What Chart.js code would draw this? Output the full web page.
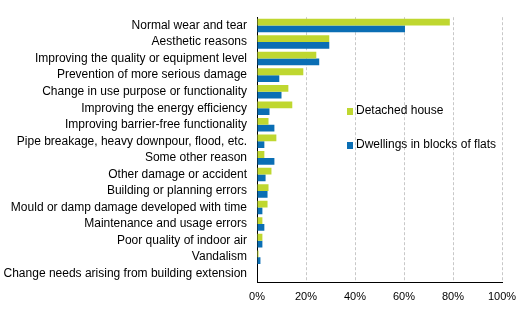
<!DOCTYPE html>
<html>
<head>
<meta charset="utf-8">
<script src="https://cdn.jsdelivr.net/npm/chart.js@4"></script>
<style>
  body { margin: 0; background: #fff; }
  #wrap { position: relative; width: 527px; height: 321px; }
  .leg { position: absolute; font: 12px "Liberation Sans", Arial, sans-serif; color: #000; white-space: nowrap; }
  .leg span { display: inline-block; width: 6px; height: 7px; margin-right: 3px; vertical-align: -1px; }
</style>
</head>
<body>
<div id="wrap">
  <canvas id="chart" width="527" height="321"></canvas>
  <div class="leg" style="left:347px; top:103px;"><span style="background:#bfd730"></span>Detached house</div>
  <div class="leg" style="left:347px; top:137px;"><span style="background:#0a6eb4"></span>Dwellings in blocks of flats</div>
</div>
<script>
// Chart data
const categories = [
  "Normal wear and tear",
  "Aesthetic reasons",
  "Improving the quality or equipment level",
  "Prevention of more serious damage",
  "Change in use purpose or functionality",
  "Improving the energy efficiency",
  "Improving barrier-free functionality",
  "Pipe breakage, heavy downpour, flood, etc.",
  "Some other reason",
  "Other damage or accident",
  "Building or planning errors",
  "Mould or damp damage developed with time",
  "Maintenance and usage errors",
  "Poor quality of indoor air",
  "Vandalism",
  "Change needs arising from building extension"
];
const detachedHouse = [78.7, 29.5, 24.2, 18.9, 12.8, 14.4, 4.7, 7.9, 3.0, 5.9, 4.7, 4.3, 2.2, 2.2, 0.6, 0];
const blocksOfFlats = [60.4, 29.5, 25.4, 9.1, 10.0, 5.1, 7.1, 3.0, 7.1, 3.5, 4.3, 2.2, 3.0, 2.2, 1.4, 0];
const xTicks = [0, 20, 40, 60, 80, 100];

const labelFont = { family: "'Liberation Sans', Arial, sans-serif", size: 12 };
const tickFont = { family: "'Liberation Sans', Arial, sans-serif", size: 11 };

new Chart(document.getElementById("chart").getContext("2d"), {
  type: "bar",
  data: {
    labels: categories,
    datasets: [
      {
        label: "Detached house",
        backgroundColor: "#bfd730",
        data: detachedHouse
      },
      {
        label: "Dwellings in blocks of flats",
        backgroundColor: "#0a6eb4",
        data: blocksOfFlats
      }
    ]
  },
  options: {
    indexAxis: "y",
    responsive: false,
    devicePixelRatio: 1,
    animation: false,
    layout: { padding: { top: 14, right: 25, left: 0, bottom: 0 } },
    datasets: { bar: { categoryPercentage: 0.82, barPercentage: 1.0 } },
    plugins: { legend: { display: false }, tooltip: { enabled: false } },
    scales: {
      x: {
        min: 0,
        max: 100,
        afterBuildTicks: (scale) => { scale.ticks = xTicks.map(v => ({ value: v })); },
        afterFit: (scale) => { scale.height = 39; },
        ticks: { color: "#000", font: tickFont, padding: 8, callback: (v) => v + "%" },
        grid: { color: "#c8c8c8", drawTicks: false },
        border: { display: true, color: "#000", width: 1, dash: [3, 2] }
      },
      y: {
        afterFit: (scale) => { scale.width = 257; },
        ticks: { color: "#000", font: labelFont, padding: 10, autoSkip: false },
        grid: { display: false, drawTicks: false },
        border: { display: true, color: "#000", width: 1 }
      }
    }
  }
});
</script>
</body>
</html>
